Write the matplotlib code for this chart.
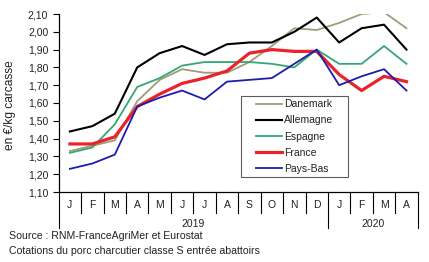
import matplotlib
matplotlib.use('Agg')
import matplotlib.pyplot as plt
import matplotlib.transforms as mtransforms
from matplotlib.legend_handler import HandlerLine2D

# monthly prices, Jan 2019 - Apr 2020 (EUR/kg carcass)
months = ['J', 'F', 'M', 'A', 'M', 'J', 'J', 'A', 'S', 'O', 'N', 'D', 'J', 'F', 'M', 'A']
years = ['2019', '2020']
year_spans = [(0, 11), (12, 15)]

danemark = [1.33, 1.36, 1.39, 1.61, 1.73, 1.79, 1.77, 1.77, 1.83, 1.92, 2.02, 2.01, 2.05, 2.10, 2.11, 2.02]
allemagne = [1.44, 1.47, 1.54, 1.80, 1.88, 1.92, 1.87, 1.93, 1.94, 1.94, 2.00, 2.08, 1.94, 2.02, 2.04, 1.90]
espagne = [1.32, 1.35, 1.48, 1.69, 1.74, 1.81, 1.83, 1.83, 1.83, 1.82, 1.80, 1.90, 1.82, 1.82, 1.92, 1.82]
france = [1.37, 1.37, 1.41, 1.58, 1.65, 1.71, 1.74, 1.78, 1.88, 1.90, 1.89, 1.89, 1.76, 1.67, 1.75, 1.72]
pays_bas = [1.23, 1.26, 1.31, 1.58, 1.63, 1.67, 1.62, 1.72, 1.73, 1.74, 1.82, 1.90, 1.70, 1.75, 1.79, 1.67]

yticks = [1.10, 1.20, 1.30, 1.40, 1.50, 1.60, 1.70, 1.80, 1.90, 2.00, 2.10]

plt.rcParams['font.family'] = ['Liberation Sans', 'DejaVu Sans']
txt_col = '#222222'

fig = plt.figure(figsize=(4.29, 2.62), dpi=100, facecolor='white')
ax = fig.add_axes([58.7 / 429, 1 - 192 / 262, 359 / 429, 178 / 262])

x = list(range(len(months)))
ax.plot(x, danemark, color='#a09b79', linewidth=1.3, label='Danemark')
ax.plot(x, allemagne, color='black', linewidth=1.5, label='Allemagne')
ax.plot(x, espagne, color='#33a873', linewidth=1.3, label='Espagne')
ax.plot(x, france, color='#e8242a', linewidth=2.3, label='France')
ax.plot(x, pays_bas, color='#1c1cb0', linewidth=1.3, label='Pays-Bas')

ax.set_xlim(-0.5, len(months) - 0.5)
ax.set_ylim(1.10, 2.10)
ax.set_yticks(yticks)
ax.set_yticklabels([('%.2f' % v).replace('.', ',') for v in yticks], fontsize=7.5, color=txt_col)
ax.tick_params(axis='y', length=4, width=0.8, pad=3.5, direction='out')
ax.set_xticks([])

for s in ['top', 'right']:
    ax.spines[s].set_visible(False)
ax.spines['left'].set_linewidth(0.9)
ax.spines['bottom'].set_linewidth(0.9)

ax.set_ylabel('en €/kg carcasse', fontsize=8.6, color=txt_col)
ax.yaxis.set_label_coords((15.5 - 58.7) / 359, 0.49)

# category axis drawn by hand: month separators, month and year labels
trans = mtransforms.blended_transform_factory(ax.transData, ax.transAxes)
short = -21 / 178
long_ = -36 / 178
year_edges = [-0.5, 11.5, len(months) - 0.5]
for i in range(len(months) + 1):
    xe = i - 0.5
    y1 = long_ if xe in year_edges else short
    ax.plot([xe, xe], [0, y1], color='black', linewidth=0.8, transform=trans, clip_on=False)
for i, m in enumerate(months):
    ax.text(i, -13 / 178, m, transform=trans, ha='center', va='center', fontsize=7.5, color=txt_col)
for yr, (a, b) in zip(years, year_spans):
    ax.text((a + b) / 2, -32 / 178, yr, transform=trans, ha='center', va='center', fontsize=7.5, color=txt_col)

# legend box: 241..348 px wide, 95.7..183.3 px tall
leg = ax.legend(loc='upper left', mode='expand',
                bbox_to_anchor=(241 / 429, 1 - 183.3 / 262, 107.3 / 429, 87.6 / 262),
                bbox_transform=fig.transFigure,
                handler_map={plt.Line2D: HandlerLine2D(xpad=1.1)},
                fontsize=7.5, frameon=True, fancybox=False, handlelength=3.6, handletextpad=0.15,
                labelspacing=0.58, borderpad=0.36, borderaxespad=0)
leg.get_frame().set_edgecolor('#333333')
leg.get_frame().set_linewidth(0.8)
for t in leg.get_texts():
    t.set_color(txt_col)

fig.text(9 / 429, 1 - 236 / 262, 'Source : RNM-FranceAgriMer et Eurostat', fontsize=7.6, va='center', ha='left', color=txt_col)
fig.text(9 / 429, 1 - 250.5 / 262, 'Cotations du porc charcutier classe S entrée abattoirs', fontsize=7.6, va='center', ha='left', color=txt_col)

fig.savefig('out.png', dpi=100, facecolor='white')
